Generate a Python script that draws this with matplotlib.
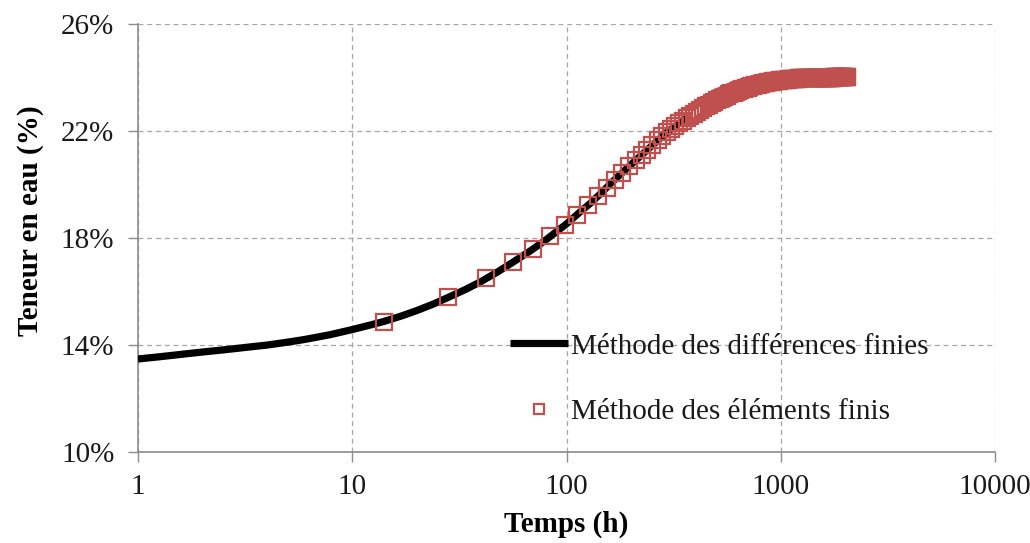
import matplotlib
matplotlib.use("Agg")
import matplotlib.pyplot as plt
from matplotlib.ticker import FixedLocator, NullLocator, FuncFormatter

# ---- Data ----
# Finite-difference solution (black line)
temps_mdf = [1, 1.25, 1.5, 1.75, 2, 2.5, 3, 3.5, 4, 5, 6, 7, 8, 10, 12, 14,
             17, 20, 24, 28, 34, 40, 48, 56, 68, 80, 90, 100, 115, 130, 145,
             160, 180, 200, 225, 250, 275, 300, 340, 380]
teneur_mdf = [13.47, 13.55, 13.62, 13.68, 13.73, 13.81, 13.88, 13.94, 13.99,
              14.10, 14.20, 14.30, 14.39, 14.57, 14.73, 14.87, 15.08, 15.28,
              15.53, 15.77, 16.08, 16.37, 16.74, 17.08, 17.52, 17.92, 18.24,
              18.52, 18.95, 19.31, 19.67, 20.02, 20.40, 20.74, 21.11, 21.44,
              21.74, 22.00, 22.31, 22.57]

# Finite-element solution (red squares)
temps_mef = [
    14, 28, 42, 56, 70, 84, 98, 112, 126, 140, 154, 168, 182, 196, 210, 224,
    238, 252, 266, 280, 294, 308, 322, 336, 350, 364, 378, 392, 406, 420, 434,
    448, 462, 476, 490, 504, 518, 532, 546, 560, 574, 588, 602, 616, 630, 644,
    658, 672, 686, 700, 714, 728, 742, 756, 770, 784, 798, 812, 826, 840, 854,
    868, 882, 896, 910, 924, 938, 952, 966, 980, 994, 1008, 1022, 1036, 1050,
    1064, 1078, 1092, 1106, 1120, 1134, 1148, 1162, 1176, 1190, 1204, 1218,
    1232, 1246, 1260, 1274, 1288, 1302, 1316, 1330, 1344, 1358, 1372, 1386,
    1400, 1414, 1428, 1442, 1456, 1470, 1484, 1498, 1512, 1526, 1540, 1554,
    1568, 1582, 1596, 1610, 1624, 1638, 1652, 1666, 1680, 1694, 1708, 1722,
    1736, 1750, 1764, 1778, 1792, 1806, 1820, 1834, 1848, 1862, 1876, 1890,
    1904, 1918, 1932, 1946, 1960, 1974, 1988, 2002, 2016, 2030, 2044]
teneur_mef = [
    14.86, 15.79, 16.48, 17.10, 17.60, 18.06, 18.47, 18.87, 19.21, 19.55,
    19.88, 20.17, 20.44, 20.68, 20.90, 21.10, 21.29, 21.47, 21.64, 21.80,
    21.95, 22.07, 22.18, 22.28, 22.38, 22.47, 22.56, 22.64, 22.71, 22.79,
    22.86, 22.92, 22.98, 23.04, 23.09, 23.15, 23.19, 23.24, 23.28, 23.32,
    23.36, 23.40, 23.43, 23.46, 23.49, 23.52, 23.55, 23.58, 23.60, 23.62,
    23.64, 23.66, 23.68, 23.70, 23.72, 23.73, 23.75, 23.76, 23.78, 23.79,
    23.80, 23.81, 23.82, 23.83, 23.84, 23.85, 23.86, 23.87, 23.88, 23.88,
    23.89, 23.90, 23.90, 23.91, 23.91, 23.92, 23.92, 23.93, 23.93, 23.93,
    23.94, 23.94, 23.94, 23.95, 23.95, 23.95, 23.96, 23.96, 23.96, 23.96,
    23.97, 23.97, 23.97, 23.97, 23.97, 23.97,
    23.98, 23.98, 23.98, 23.98, 23.98, 23.98, 23.98, 23.98, 23.98,
    23.99, 23.99, 23.99, 23.99, 23.99, 23.99, 23.99, 23.99, 23.99, 23.99,
    23.99, 23.99, 23.99, 23.99, 23.99, 23.99, 23.99, 23.99, 23.99, 23.99,
    24.00, 24.00, 24.00, 24.00, 24.00, 24.00, 24.00, 24.00, 24.00, 24.00,
    24.00, 24.00, 24.00, 24.00, 24.00, 24.00, 24.00, 24.00, 24.00, 24.00,
    24.00]

x_ticks = [1, 10, 100, 1000, 10000]
x_tick_labels = ["1", "10", "100", "1000", "10000"]
y_ticks = [10, 14, 18, 22, 26]

label_mdf = "Méthode des différences finies"
label_mef = "Méthode des éléments finis"
xlabel = "Temps (h)"
ylabel = "Teneur en eau (%)"

# ---- Figure ----
plt.rcParams['font.family'] = ['Liberation Serif', 'DejaVu Serif']
fig = plt.figure(figsize=(10.30, 5.43), dpi=100)
ax = fig.add_axes([0.134, 0.168, 0.832, 0.788])

red = "#C0504D"
ax.plot(temps_mdf, teneur_mdf, color="black", lw=5.2, solid_capstyle="butt",
        label=label_mdf, zorder=3)
ax.plot(temps_mef, teneur_mef, linestyle="none", marker="s", markersize=12.2,
        markerfacecolor="none", markeredgecolor=red, markeredgewidth=1.6,
        label=label_mef, zorder=4)

ax.set_xscale("log")
ax.set_xlim(1, 10000)
ax.set_ylim(10, 26)
ax.xaxis.set_major_locator(FixedLocator(x_ticks))
ax.xaxis.set_minor_locator(NullLocator())
ax.set_xticklabels(x_tick_labels)
ax.yaxis.set_major_locator(FixedLocator(y_ticks))
ax.yaxis.set_major_formatter(FuncFormatter(lambda v, p: f"{v:.0f}%"))

ax.grid(True, which="major", color="#a6a6a6", linestyle=(0, (4, 3)), lw=0.9)
ax.set_axisbelow(True)
for s in ["top", "right"]:
    ax.spines[s].set_visible(False)
for s in ["left", "bottom"]:
    ax.spines[s].set_color("#8c8c8c")
    ax.spines[s].set_linewidth(1.2)
ax.tick_params(axis="both", which="major", direction="out", length=7,
               width=1.0, color="#8c8c8c", labelsize=21, labelcolor="#1a1a1a")
ax.tick_params(axis="x", pad=9)
ax.tick_params(axis="y", pad=10)

ax.set_xlabel(xlabel, fontsize=21, fontweight="bold")
ax.set_ylabel(ylabel, fontsize=21, fontweight="bold")
ax.xaxis.set_label_coords(0.5, -0.137)
ax.yaxis.set_label_coords(-0.11, 0.54)

leg = ax.legend(loc="upper left", bbox_to_anchor=(0.434, 0.277), frameon=False,
                fontsize=21, handlelength=2.0, handletextpad=0.1,
                labelspacing=1.35, borderpad=0, borderaxespad=0,
                markerscale=0.62)
for t in leg.get_texts():
    t.set_color("#1a1a1a")

fig.savefig("out.png", dpi=100)
